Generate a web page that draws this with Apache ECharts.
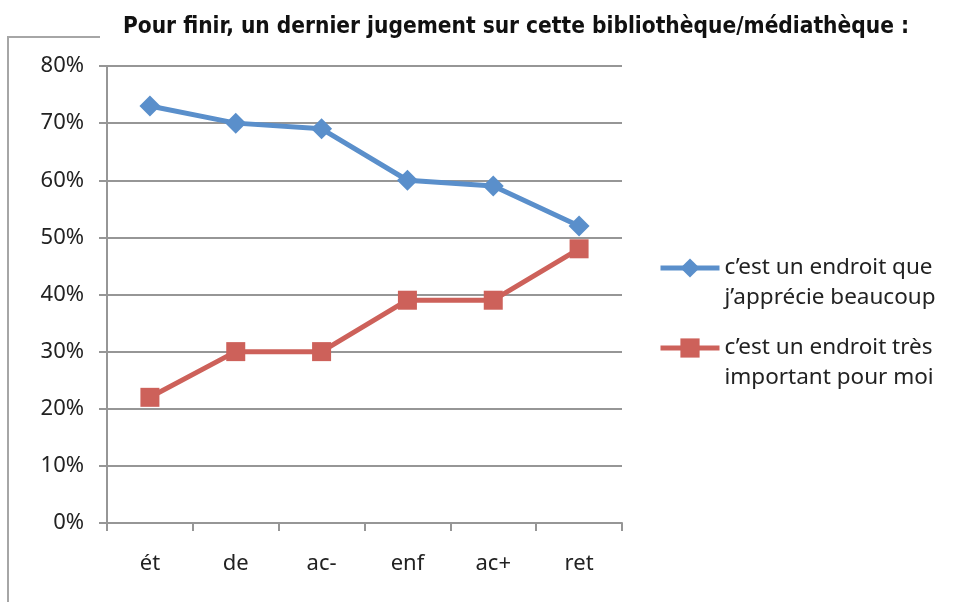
<!DOCTYPE html>
<html>
<head>
<meta charset="utf-8">
<script src="https://cdn.jsdelivr.net/npm/echarts@6/dist/echarts.min.js"></script>
<style>
  html, body { margin: 0; padding: 0; background: #fff; }
  #chart { width: 954px; height: 602px; }
</style>
</head>
<body>
<div id="chart"></div>
<script>
const categories = ['ét', 'de', 'ac-', 'enf', 'ac+', 'ret']
const apprecie = [73, 70, 69, 60, 59, 52]
const important = [22, 30, 30, 39, 39, 48]
const seriesNames = ["c’est un endroit que\nj’apprécie beaucoup", "c’est un endroit très\nimportant pour moi"]

const textFont = 'Noto Sans'
const chart = echarts.init(document.getElementById('chart'))

const legendBase = {
  orient: 'vertical',
  left: 658,
  padding: 0,
  itemWidth: 59,
  itemHeight: 24,
  lineStyle: { width: 5 },
  textStyle: {
    fontFamily: textFont,
    fontSize: 22.5,
    color: '#222',
    lineHeight: 30
  },
  // blank first line keeps the marker on the first text line
  formatter: name => '\n' + name
}

const option = {
  animation: false,
  title: {
    text: 'Pour finir, un dernier jugement sur cette bibliothèque/médiathèque :',
    left: 511,
    textAlign: 'center',
    top: 11,
    textStyle: {
      fontFamily: "'DejaVu Sans Condensed', 'Liberation Sans', sans-serif",
      fontSize: 22.5,
      fontWeight: 'bold',
      color: '#111'
    }
  },
  graphic: [
    {
      type: 'polyline',
      shape: { points: [[8, 602], [8, 37], [100, 37]] },
      style: { stroke: '#a6a6a6', lineWidth: 2, fill: null },
      z: -1
    }
  ],
  legend: [
    Object.assign({}, legendBase, { top: 223, data: [seriesNames[0]] }),
    Object.assign({}, legendBase, { top: 303, data: [seriesNames[1]] })
  ],
  grid: {
    left: 107,
    right: 332,
    top: 66,
    bottom: 79
  },
  xAxis: {
    type: 'category',
    data: categories,
    boundaryGap: true,
    axisLine: { lineStyle: { color: '#969696', width: 2 } },
    axisTick: { show: true, length: 8, lineStyle: { color: '#969696', width: 2 } },
    axisLabel: {
      margin: 30,
      fontFamily: textFont,
      fontSize: 22,
      color: '#222'
    }
  },
  yAxis: {
    type: 'value',
    min: 0,
    max: 80,
    interval: 10,
    axisLine: { show: true, lineStyle: { color: '#969696', width: 2 } },
    axisTick: { show: true, length: 8, lineStyle: { color: '#969696', width: 2 } },
    splitLine: { lineStyle: { color: '#969696', width: 2 } },
    axisLabel: {
      margin: 23,
      formatter: '{value}%',
      fontFamily: textFont,
      fontSize: 22,
      color: '#222'
    }
  },
  series: [
    {
      name: seriesNames[0],
      type: 'line',
      data: apprecie,
      symbol: 'diamond',
      symbolSize: 21,
      itemStyle: { color: '#5a8fcb' },
      lineStyle: { width: 5, color: '#5a8fcb' }
    },
    {
      name: seriesNames[1],
      type: 'line',
      data: important,
      symbol: 'rect',
      symbolSize: 19,
      itemStyle: { color: '#cd615a' },
      lineStyle: { width: 5, color: '#cd615a' }
    }
  ]
}

chart.setOption(option)
</script>
</body>
</html>
